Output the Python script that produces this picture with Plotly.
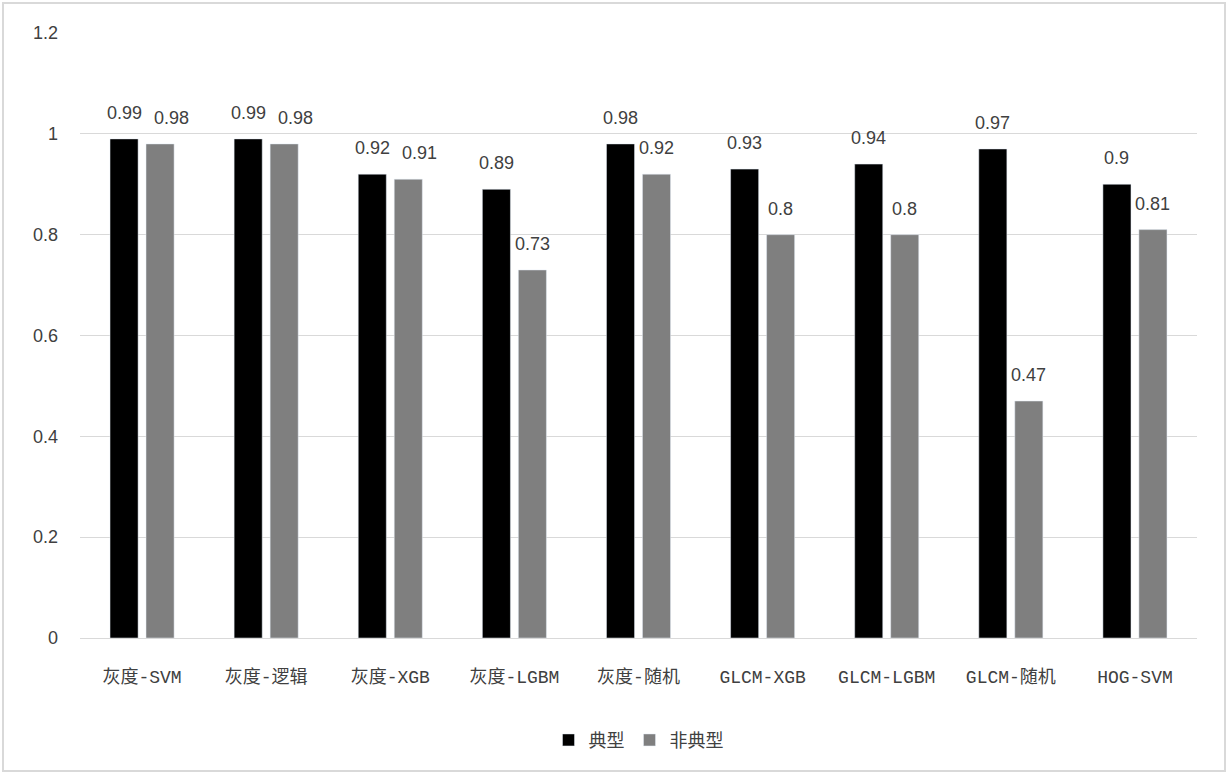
import plotly.graph_objects as go

categories = ["灰度-SVM", "灰度-逻辑", "灰度-XGB", "灰度-LGBM", "灰度-随机",
              "GLCM-XGB", "GLCM-LGBM", "GLCM-随机", "HOG-SVM"]
typical = [0.99, 0.99, 0.92, 0.89, 0.98, 0.93, 0.94, 0.97, 0.90]
atypical = [0.98, 0.98, 0.91, 0.73, 0.92, 0.80, 0.80, 0.47, 0.81]
y_ticks = [0, 0.2, 0.4, 0.6, 0.8, 1, 1.2]

W, H = 1228, 774
L, R, T, B = 80, 31, 33, 136

fig = go.Figure()
fig.add_trace(go.Bar(x=categories, y=typical, name="典型", marker_color="#000000"))
fig.add_trace(go.Bar(x=categories, y=atypical, name="非典型", marker_color="#7f7f7f"))

# value labels above each bar; gray label nudged right when it would crowd the black one
label_font = dict(family="Liberation Sans, Arial", size=18, color="#404040")
for c, a, b in zip(categories, typical, atypical):
    fig.add_annotation(x=c, y=a, text=f"{a:g}", showarrow=False,
                       xshift=-18, yshift=14, yanchor="bottom", font=label_font)
    nudge = 11 if abs(a - b) < 0.03 else 0
    fig.add_annotation(x=c, y=b, text=f"{b:g}", showarrow=False,
                       xshift=18 + nudge, yshift=14, yanchor="bottom", font=label_font)

pw, ph = W - L - R, H - T - B
fig.add_shape(type="rect", xref="paper", yref="paper",
              x0=(3 - L) / pw, x1=(W - 3 - L) / pw,
              y0=-(H - 3 - T - ph) / ph, y1=1 + (T - 3) / ph,
              line=dict(color="#d9d9d9", width=2), layer="below")

fig.update_layout(
    width=W, height=H,
    margin=dict(l=L, r=R, t=T, b=B),
    plot_bgcolor="white", paper_bgcolor="white",
    barmode="group", bargap=0.42, bargroupgap=0.22,
    showlegend=True,
    legend=dict(orientation="h", x=0.5, xanchor="center", y=-0.169, yanchor="middle",
                font=dict(family="Noto Sans CJK SC", size=18, color="#404040"),
                itemwidth=30, traceorder="normal"),
    xaxis=dict(showgrid=False, ticks="", ticklabelstandoff=22,
               showline=True, linecolor="#d9d9d9", linewidth=1,
               tickfont=dict(family="Liberation Mono, Noto Sans CJK SC", size=18, color="#404040")),
    yaxis=dict(range=[0, 1.2], tickvals=y_ticks, showgrid=True, gridcolor="#d9d9d9",
               gridwidth=1, zeroline=False, ticks="", ticklabelstandoff=21,
               tickfont=dict(family="Liberation Sans, Arial", size=18, color="#404040")),
)

fig.write_html("out.html", config={"displayModeBar": False},
               post_script="document.body.style.margin='0';")
